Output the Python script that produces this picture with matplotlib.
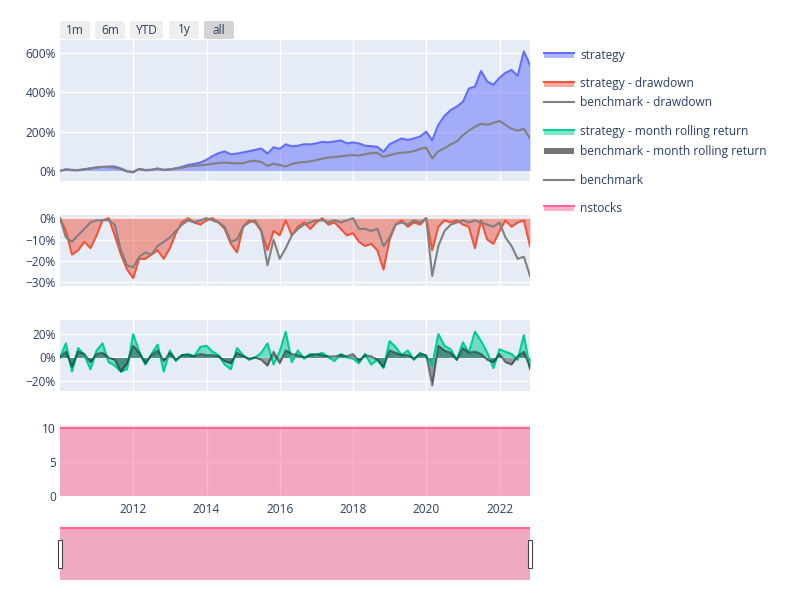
import numpy as np
import pandas as pd
import matplotlib
matplotlib.use("Agg")
import matplotlib.pyplot as plt
import matplotlib.dates as mdates
from matplotlib.patches import Rectangle, FancyBboxPatch
from matplotlib.lines import Line2D
from matplotlib.ticker import FuncFormatter, FixedLocator

plt.rcParams['font.family'] = ['Open Sans', 'DejaVu Sans']

# --- datos (puntos cada 2 meses) ---
dates = pd.date_range("2010-01-01", periods=78, freq="2MS")

strategy = [0, 8, 5, 2, 8, 12, 17, 20, 22, 22,
            12, -2, -8, 10, 4, 6, 12, 4, 6, 13,
            20, 30, 35, 42, 56, 75, 90, 99, 84, 88,
            94, 100, 107, 114, 88, 120, 112, 135, 125, 128,
            136, 135, 140, 148, 145, 150, 155, 140, 145, 140,
            128, 126, 122, 97, 136, 150, 165, 158, 165, 175,
            200, 156, 235, 280, 310, 328, 352, 420, 430, 510,
            455, 440, 475, 500, 515, 485, 610, 540]
benchmark = [0, 5, 3, 4, 8, 12, 18, 20, 18, 17,
             8, -3, -5, 10, 2, 4, 10, 5, 8, 12,
             16, 22, 26, 28, 31, 36, 40, 42, 40, 38,
             39, 48, 51, 45, 25, 36, 30, 22, 35, 42,
             45, 48, 55, 62, 68, 70, 74, 78, 80, 78,
             85, 90, 92, 71, 80, 88, 92, 95, 100, 112,
             118, 63, 100, 115, 135, 150, 182, 205, 225, 240,
             235, 245, 255, 235, 215, 205, 215, 165]

strategy_dd = [0, -6, -17, -15, -11, -14, -8, -1, 0, -8,
               -17, -24, -28, -19, -19, -17, -15, -19, -14, -7,
               -2, 0, -2, -3, -1, 0, -2, -5, -12, -16,
               -4, -1, -2, -6, -15, -6, -8, -1, -8, -4,
               -2, -5, -2, 0, -3, -2, -5, -8, -7, -11,
               -13, -12, -15, -24, -10, -3, -1, -4, -2, -3,
               0, -15, -4, -1, -2, -1, -3, -4, -14, -1,
               -10, -12, -6, -1, -4, -2, -1, -13]
benchmark_dd = [0, -9, -11, -8, -5, -2, -1, -1, -1, -3,
                -15, -22, -23, -18, -16, -17, -13, -11, -9, -6,
                -3, -1, -2, -1, 0, -1, -2, -4, -11, -10,
                -4, -2, -1, -6, -22, -10, -19, -14, -8, -5,
                -3, -2, -1, -1, -2, -1, -2, -1, 0, -5,
                -5, -6, -5, -13, -9, -3, -2, -3, -1, -2,
                0, -27, -13, -6, -3, -2, -1, -2, -1, -2,
                -3, -4, -2, -9, -13, -19, -18, -27]

strategy_roll = [0, 12, -12, 8, 2, -10, 6, 12, -4, -7,
                 -12, -10, 20, 5, -6, 3, 11, -12, 6, -3,
                 2, 3, 1, 9, 10, 5, 2, -6, -10, 8,
                 2, -2, 0, 4, 12, -6, 5, 22, -4, 6,
                 -1, 3, 2, 4, 0, -3, 3, 0, -1, -5,
                 3, -6, -2, -9, 14, 9, 2, 6, -2, 4,
                 1, -7, 20, 10, 7, -2, 13, 4, 22, 14,
                 4, -9, 7, 5, 3, -2, 19, -10]
benchmark_roll = [0, 5, -8, 5, 3, -4, 3, 4, 0, -2,
                  -12, -5, 10, 4, -5, 2, 6, -3, 4, -2,
                  2, 2, 1, 3, 2, 2, 1, -3, -5, 4,
                  1, -1, 0, -2, -7, 5, -5, 6, 3, 2,
                  0, 2, 3, 2, 1, 1, 2, 1, 3, -3,
                  2, 1, -2, -8, 6, 4, 2, 2, -1, 3,
                  2, -24, 10, 6, 4, -2, 8, 4, 5, 3,
                  -2, -4, 3, -4, -6, 1, 5, -9]

nstocks_dates = pd.to_datetime(["2010-01-01", "2022-11-01"])
nstocks = [10, 10]

buttons = ["1m", "6m", "YTD", "1y", "all"]
year_ticks = [2012, 2014, 2016, 2018, 2020, 2022]

# --- colores plotly ---
BG = "#E5ECF6"
TXT = "#2a3f5f"
BLUE = "#636EFA"
RED = "#EF553B"
GREEN = "#00CC96"
PINK = "#FF6692"
GREY = "#808080"

W, H = 800, 600
fig = plt.figure(figsize=(8, 6), dpi=100)


def px_axes(x0, y0, x1, y1):
    # coordenadas en pixeles (origen arriba a la izquierda)
    return fig.add_axes([x0 / W, 1 - y1 / H, (x1 - x0) / W, (y1 - y0) / H])


def pct(v, pos=None):
    s = f"{abs(v):.0f}%"
    return ("\u2212" + s) if v < 0 else s


xmin, xmax = dates[0], dates[-1]
grid_x = [pd.Timestamp(f"{y}-01-01") for y in year_ticks]


def style(ax, yticks, fmt=None, show_x=False):
    ax.set_facecolor(BG)
    for s in ax.spines.values():
        s.set_visible(False)
    ax.set_xlim(xmin, xmax)
    ax.xaxis.set_major_locator(FixedLocator(mdates.date2num(grid_x)))
    ax.xaxis.set_major_formatter(mdates.DateFormatter("%Y"))
    ax.set_yticks(yticks)
    if fmt is not None:
        ax.yaxis.set_major_formatter(FuncFormatter(fmt))
    ax.grid(True, color="white", linewidth=1)
    ax.set_axisbelow(True)
    ax.tick_params(length=0, labelsize=8.6, colors=TXT, pad=3)
    if not show_x:
        ax.tick_params(axis="x", labelbottom=False)


ax1 = px_axes(60, 40, 530, 181)
ax2 = px_axes(60, 215, 530, 286)
ax3 = px_axes(60, 320, 530, 391)
ax4 = px_axes(60, 425, 530, 496)
ax5 = px_axes(60, 527, 530, 580)

# panel 1: retorno acumulado
ax1.fill_between(dates, strategy, 0, color=BLUE, alpha=0.5, linewidth=0)
ax1.plot(dates, strategy, color=BLUE, linewidth=1.5)
ax1.plot(dates, benchmark, color=GREY, linewidth=1.5)
ax1.set_ylim(-52, 668)
style(ax1, [0, 200, 400, 600], pct)

# panel 2: drawdown
ax2.fill_between(dates, strategy_dd, 0, color=RED, alpha=0.5, linewidth=0)
ax2.plot(dates, strategy_dd, color=RED, linewidth=1.5)
ax2.plot(dates, benchmark_dd, color=GREY, linewidth=1.5)
ax2.set_ylim(-31.7, 1.5)
style(ax2, [0, -10, -20, -30], pct)

# panel 3: retorno movil mensual
ax3.fill_between(dates, strategy_roll, 0, color=GREEN, alpha=0.5, linewidth=0)
ax3.plot(dates, strategy_roll, color=GREEN, linewidth=1.5)
ax3.fill_between(dates, benchmark_roll, 0, color="black", alpha=0.35, linewidth=0)
ax3.plot(dates, benchmark_roll, color="black", alpha=0.45, linewidth=1.5)
ax3.set_ylim(-28.6, 32)
style(ax3, [-20, 0, 20], pct)

# panel 4: nstocks
ax4.fill_between(nstocks_dates, nstocks, 0, color=PINK, alpha=0.5, linewidth=0)
ax4.plot(nstocks_dates, nstocks, color=PINK, linewidth=1.5)
ax4.set_ylim(0, 10.5)
style(ax4, [0, 5, 10], lambda v, p: f"{v:.0f}", show_x=True)
ax4.tick_params(axis="x", pad=5)

# range slider (mismo rosa que el panel 4)
ax5.set_facecolor("white")
ax5.fill_between(nstocks_dates, nstocks, 0, color="#F1A8C3", linewidth=0)
ax5.plot(nstocks_dates, nstocks, color=PINK, linewidth=1.5)
ax5.set_xlim(xmin, xmax)
ax5.set_ylim(0, 10.2)
ax5.set_xticks([])
ax5.set_yticks([])
for s in ax5.spines.values():
    s.set_visible(False)
for gx in (58, 528):
    fig.add_artist(Rectangle((gx / W, 1 - 568 / H), 4 / W, 28 / H,
                             transform=fig.transFigure, facecolor="white",
                             edgecolor="#444444", linewidth=0.8))

# botones del range selector
bx = [(60, 90), (95, 125), (130, 163), (169, 199), (204, 234)]
for (x0, x1), lab in zip(bx, buttons):
    col = "#d4d4d4" if lab == "all" else "#eeeeee"
    fig.add_artist(FancyBboxPatch((x0 / W, 1 - 39 / H), (x1 - x0) / W, 18 / H,
                                  boxstyle="round,pad=0,rounding_size=0.003",
                                  transform=fig.transFigure, facecolor=col,
                                  edgecolor="none"))
    fig.text((x0 + x1) / 2 / W, 1 - 30 / H, lab, ha="center", va="center",
             fontsize=8.6, color=TXT)

# leyenda manual
legend = [
    ("strategy", 55, BLUE, "fill"),
    ("strategy - drawdown", 84, RED, "fill"),
    ("benchmark - drawdown", 102, GREY, "line"),
    ("strategy - month rolling return", 132, GREEN, "fill"),
    ("benchmark - month rolling return", 151, "#777777", "band"),
    ("benchmark", 180, GREY, "line"),
    ("nstocks", 208, PINK, "fill"),
]
for label, y, col, kind in legend:
    if kind == "fill":
        fig.add_artist(Rectangle((544 / W, 1 - (y + 3) / H), 30 / W, 6 / H,
                                 transform=fig.transFigure, facecolor=col,
                                 alpha=0.5, edgecolor="none"))
        fig.add_artist(Line2D([544 / W, 574 / W], [1 - (y - 2.5) / H] * 2,
                              transform=fig.transFigure, color=col, linewidth=1.5))
    elif kind == "band":
        fig.add_artist(Rectangle((544 / W, 1 - (y + 3) / H), 30 / W, 6 / H,
                                 transform=fig.transFigure, facecolor=col,
                                 edgecolor="none"))
    else:
        fig.add_artist(Line2D([544 / W, 574 / W], [1 - y / H] * 2,
                              transform=fig.transFigure, color=col, linewidth=1.5))
    fig.text(580 / W, 1 - y / H, label, ha="left", va="center",
             fontsize=8.6, color=TXT)

fig.savefig("out.png", dpi=100, facecolor="white")
